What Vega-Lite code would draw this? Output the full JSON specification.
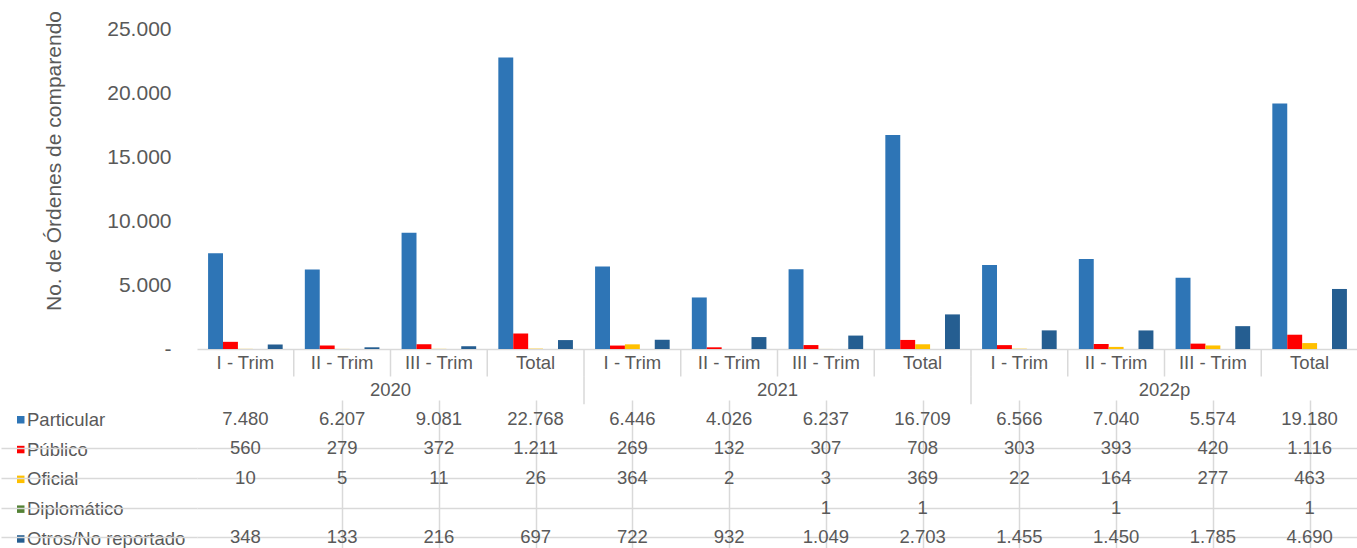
{
  "$schema": "https://vega.github.io/schema/vega-lite/v6.json",
  "padding": {"left": 0, "top": 10, "right": 0, "bottom": 0},
  "bounds": "flush",
  "spacing": 0,
  "resolve": {"scale": {"x": "independent", "y": "independent", "color": "independent"}},
  "datasets": {
    "main": [
      {"k": "2020-1", "yr": "2020", "q": "I - Trim", "s": "Particular", "v": 7480},
      {"k": "2020-2", "yr": "2020", "q": "II - Trim", "s": "Particular", "v": 6207},
      {"k": "2020-3", "yr": "2020", "q": "III - Trim", "s": "Particular", "v": 9081},
      {"k": "2020-T", "yr": "2020", "q": "Total", "s": "Particular", "v": 22768},
      {"k": "2021-1", "yr": "2021", "q": "I - Trim", "s": "Particular", "v": 6446},
      {"k": "2021-2", "yr": "2021", "q": "II - Trim", "s": "Particular", "v": 4026},
      {"k": "2021-3", "yr": "2021", "q": "III - Trim", "s": "Particular", "v": 6237},
      {"k": "2021-T", "yr": "2021", "q": "Total", "s": "Particular", "v": 16709},
      {"k": "2022-1", "yr": "2022p", "q": "I - Trim", "s": "Particular", "v": 6566},
      {"k": "2022-2", "yr": "2022p", "q": "II - Trim", "s": "Particular", "v": 7040},
      {"k": "2022-3", "yr": "2022p", "q": "III - Trim", "s": "Particular", "v": 5574},
      {"k": "2022-T", "yr": "2022p", "q": "Total", "s": "Particular", "v": 19180},
      {"k": "2020-1", "yr": "2020", "q": "I - Trim", "s": "Público", "v": 560},
      {"k": "2020-2", "yr": "2020", "q": "II - Trim", "s": "Público", "v": 279},
      {"k": "2020-3", "yr": "2020", "q": "III - Trim", "s": "Público", "v": 372},
      {"k": "2020-T", "yr": "2020", "q": "Total", "s": "Público", "v": 1211},
      {"k": "2021-1", "yr": "2021", "q": "I - Trim", "s": "Público", "v": 269},
      {"k": "2021-2", "yr": "2021", "q": "II - Trim", "s": "Público", "v": 132},
      {"k": "2021-3", "yr": "2021", "q": "III - Trim", "s": "Público", "v": 307},
      {"k": "2021-T", "yr": "2021", "q": "Total", "s": "Público", "v": 708},
      {"k": "2022-1", "yr": "2022p", "q": "I - Trim", "s": "Público", "v": 303},
      {"k": "2022-2", "yr": "2022p", "q": "II - Trim", "s": "Público", "v": 393},
      {"k": "2022-3", "yr": "2022p", "q": "III - Trim", "s": "Público", "v": 420},
      {"k": "2022-T", "yr": "2022p", "q": "Total", "s": "Público", "v": 1116},
      {"k": "2020-1", "yr": "2020", "q": "I - Trim", "s": "Oficial", "v": 10},
      {"k": "2020-2", "yr": "2020", "q": "II - Trim", "s": "Oficial", "v": 5},
      {"k": "2020-3", "yr": "2020", "q": "III - Trim", "s": "Oficial", "v": 11},
      {"k": "2020-T", "yr": "2020", "q": "Total", "s": "Oficial", "v": 26},
      {"k": "2021-1", "yr": "2021", "q": "I - Trim", "s": "Oficial", "v": 364},
      {"k": "2021-2", "yr": "2021", "q": "II - Trim", "s": "Oficial", "v": 2},
      {"k": "2021-3", "yr": "2021", "q": "III - Trim", "s": "Oficial", "v": 3},
      {"k": "2021-T", "yr": "2021", "q": "Total", "s": "Oficial", "v": 369},
      {"k": "2022-1", "yr": "2022p", "q": "I - Trim", "s": "Oficial", "v": 22},
      {"k": "2022-2", "yr": "2022p", "q": "II - Trim", "s": "Oficial", "v": 164},
      {"k": "2022-3", "yr": "2022p", "q": "III - Trim", "s": "Oficial", "v": 277},
      {"k": "2022-T", "yr": "2022p", "q": "Total", "s": "Oficial", "v": 463},
      {"k": "2020-1", "yr": "2020", "q": "I - Trim", "s": "Diplomático", "v": null},
      {"k": "2020-2", "yr": "2020", "q": "II - Trim", "s": "Diplomático", "v": null},
      {"k": "2020-3", "yr": "2020", "q": "III - Trim", "s": "Diplomático", "v": null},
      {"k": "2020-T", "yr": "2020", "q": "Total", "s": "Diplomático", "v": null},
      {"k": "2021-1", "yr": "2021", "q": "I - Trim", "s": "Diplomático", "v": null},
      {"k": "2021-2", "yr": "2021", "q": "II - Trim", "s": "Diplomático", "v": null},
      {"k": "2021-3", "yr": "2021", "q": "III - Trim", "s": "Diplomático", "v": 1},
      {"k": "2021-T", "yr": "2021", "q": "Total", "s": "Diplomático", "v": 1},
      {"k": "2022-1", "yr": "2022p", "q": "I - Trim", "s": "Diplomático", "v": null},
      {"k": "2022-2", "yr": "2022p", "q": "II - Trim", "s": "Diplomático", "v": 1},
      {"k": "2022-3", "yr": "2022p", "q": "III - Trim", "s": "Diplomático", "v": null},
      {"k": "2022-T", "yr": "2022p", "q": "Total", "s": "Diplomático", "v": 1},
      {"k": "2020-1", "yr": "2020", "q": "I - Trim", "s": "Otros/No reportado", "v": 348},
      {"k": "2020-2", "yr": "2020", "q": "II - Trim", "s": "Otros/No reportado", "v": 133},
      {"k": "2020-3", "yr": "2020", "q": "III - Trim", "s": "Otros/No reportado", "v": 216},
      {"k": "2020-T", "yr": "2020", "q": "Total", "s": "Otros/No reportado", "v": 697},
      {"k": "2021-1", "yr": "2021", "q": "I - Trim", "s": "Otros/No reportado", "v": 722},
      {"k": "2021-2", "yr": "2021", "q": "II - Trim", "s": "Otros/No reportado", "v": 932},
      {"k": "2021-3", "yr": "2021", "q": "III - Trim", "s": "Otros/No reportado", "v": 1049},
      {"k": "2021-T", "yr": "2021", "q": "Total", "s": "Otros/No reportado", "v": 2703},
      {"k": "2022-1", "yr": "2022p", "q": "I - Trim", "s": "Otros/No reportado", "v": 1455},
      {"k": "2022-2", "yr": "2022p", "q": "II - Trim", "s": "Otros/No reportado", "v": 1450},
      {"k": "2022-3", "yr": "2022p", "q": "III - Trim", "s": "Otros/No reportado", "v": 1785},
      {"k": "2022-T", "yr": "2022p", "q": "Total", "s": "Otros/No reportado", "v": 4690}
    ]
  },
  "vconcat": [
    {
      "width": 1161,
      "height": 320,
      "data": {"name": "main"},
      "mark": {"type": "bar"},
      "encoding": {
        "x": {
          "field": "k", "type": "nominal",
          "scale": {"domain": ["2020-1","2020-2","2020-3","2020-T","2021-1","2021-2","2021-3","2021-T","2022-1","2022-2","2022-3","2022-T"], "paddingInner": 0.229, "paddingOuter": 0.1145},
          "axis": {"labels": false, "ticks": false, "title": null, "domainColor": "#D9D9D9", "domainWidth": 1.5}
        },
        "xOffset": {
          "field": "s", "type": "nominal",
          "scale": {"domain": ["Particular","Público","Oficial","Diplomático","Otros/No reportado"], "paddingInner": 0, "paddingOuter": 0}
        },
        "y": {
          "field": "v", "type": "quantitative",
          "scale": {"domain": [0, 25000], "nice": false},
          "axis": {
            "values": [0, 5000, 10000, 15000, 20000, 25000],
            "format": ",d",
            "labelExpr": "datum.value === 0 ? '-' : datum.label",
            "labelFontSize": 21,
            "labelPadding": 26,
            "ticks": false, "domain": false, "grid": false,
            "title": "No. de Órdenes de comparendo",
            "titleFontSize": 21,
            "titleX": -133,
            "titleY": 131.5
          }
        },
        "color": {
          "field": "s", "type": "nominal",
          "scale": {"domain": ["Particular","Público","Oficial","Diplomático","Otros/No reportado"], "range": ["#2E75B6","#FF0000","#FFC000","#548235","#255E91"]},
          "legend": {
            "orient": "none", "legendX": -185.5, "legendY": 381.5,
            "title": null, "symbolType": "square", "symbolSize": 56,
            "symbolStrokeWidth": 0,
            "labelFontSize": 18.5, "labelColor": "#595959", "labelOffset": -3,
            "rowPadding": 10.8, "padding": 0
          }
        }
      }
    },
    {
      "width": 1161,
      "height": 55,
      "data": {"name": "main"},
      "transform": [{"filter": "datum.s === 'Particular'"}],
      "encoding": {
        "x": {
          "field": "k", "type": "nominal",
          "scale": {"domain": ["2020-1","2020-2","2020-3","2020-T","2021-1","2021-2","2021-3","2021-T","2022-1","2022-2","2022-3","2022-T"], "paddingInner": 0, "paddingOuter": 0},
          "axis": null
        }
      },
      "layer": [
        {
          "mark": {"type": "text", "fontSize": 18.5, "color": "#595959"},
          "encoding": {
            "y": {"datum": "cat", "type": "nominal", "scale": {"domain": ["cat", "year"], "paddingInner": 0, "paddingOuter": 0}, "axis": null},
            "text": {"field": "q"}
          }
        },
        {
          "transform": [{"filter": "datum.q === 'III - Trim'"}],
          "mark": {"type": "text", "fontSize": 18.5, "color": "#595959"},
          "encoding": {
            "x": {"field": "k", "type": "nominal", "bandPosition": 0},
            "y": {"datum": "year", "type": "nominal"},
            "text": {"field": "yr"}
          }
        },
        {
          "transform": [{"filter": "datum.k !== '2020-1'"}],
          "mark": {"type": "tick", "orient": "vertical", "size": 27.5, "thickness": 1.5, "color": "#D9D9D9", "opacity": 1},
          "encoding": {
            "x": {"field": "k", "type": "nominal", "bandPosition": 0},
            "y": {"datum": "cat", "type": "nominal"}
          }
        },
        {
          "transform": [{"filter": "datum.q === 'I - Trim' && datum.yr !== '2020'"}],
          "mark": {"type": "tick", "orient": "vertical", "size": 28, "thickness": 1.5, "color": "#D9D9D9", "opacity": 1},
          "encoding": {
            "x": {"field": "k", "type": "nominal", "bandPosition": 0},
            "y": {"datum": "year", "type": "nominal"}
          }
        }
      ]
    },
    {
      "width": 1161,
      "height": 144,
      "data": {"name": "main"},
      "transform": [{"filter": "datum.v != null"}],
      "mark": {"type": "text", "fontSize": 18.5, "color": "#595959"},
      "encoding": {
        "x": {
          "field": "k", "type": "nominal",
          "scale": {"domain": ["2020-1","2020-2","2020-3","2020-T","2021-1","2021-2","2021-3","2021-T","2022-1","2022-2","2022-3","2022-T"], "paddingInner": 0, "paddingOuter": 0},
          "axis": {
            "labels": false, "ticks": false, "domain": false, "title": null,
            "grid": true, "bandPosition": 0, "gridWidth": 1.5,
            "gridColor": {"condition": {"test": "datum.value === '2020-1'", "value": "transparent"}, "value": "#D9D9D9"}
          }
        },
        "y": {
          "field": "s", "type": "nominal",
          "scale": {"domain": ["Particular","Público","Oficial","Diplomático","Otros/No reportado"], "paddingInner": 0, "paddingOuter": 0, "range": [0, 148]},
          "axis": {
            "labels": false, "domain": false, "title": null,
            "ticks": true, "tickSize": 196, "bandPosition": 0, "tickWidth": 1.5,
            "tickColor": {"condition": {"test": "datum.value === 'Particular'", "value": "transparent"}, "value": "#D9D9D9"},
            "grid": true, "gridWidth": 1.5,
            "gridColor": {"condition": {"test": "datum.value === 'Particular'", "value": "transparent"}, "value": "#D9D9D9"}
          }
        },
        "text": {"field": "v", "type": "quantitative", "format": ",d"}
      }
    }
  ],
  "config": {
    "font": "Liberation Sans",
    "view": {"stroke": null},
    "locale": {"number": {"decimal": ",", "thousands": ".", "grouping": [3], "currency": ["$", ""]}},
    "axis": {"labelFont": "Liberation Sans", "titleFont": "Liberation Sans", "labelColor": "#595959", "titleColor": "#595959", "titleFontWeight": "normal"},
    "legend": {"labelFont": "Liberation Sans"},
    "text": {"font": "Liberation Sans"}
  }
}
